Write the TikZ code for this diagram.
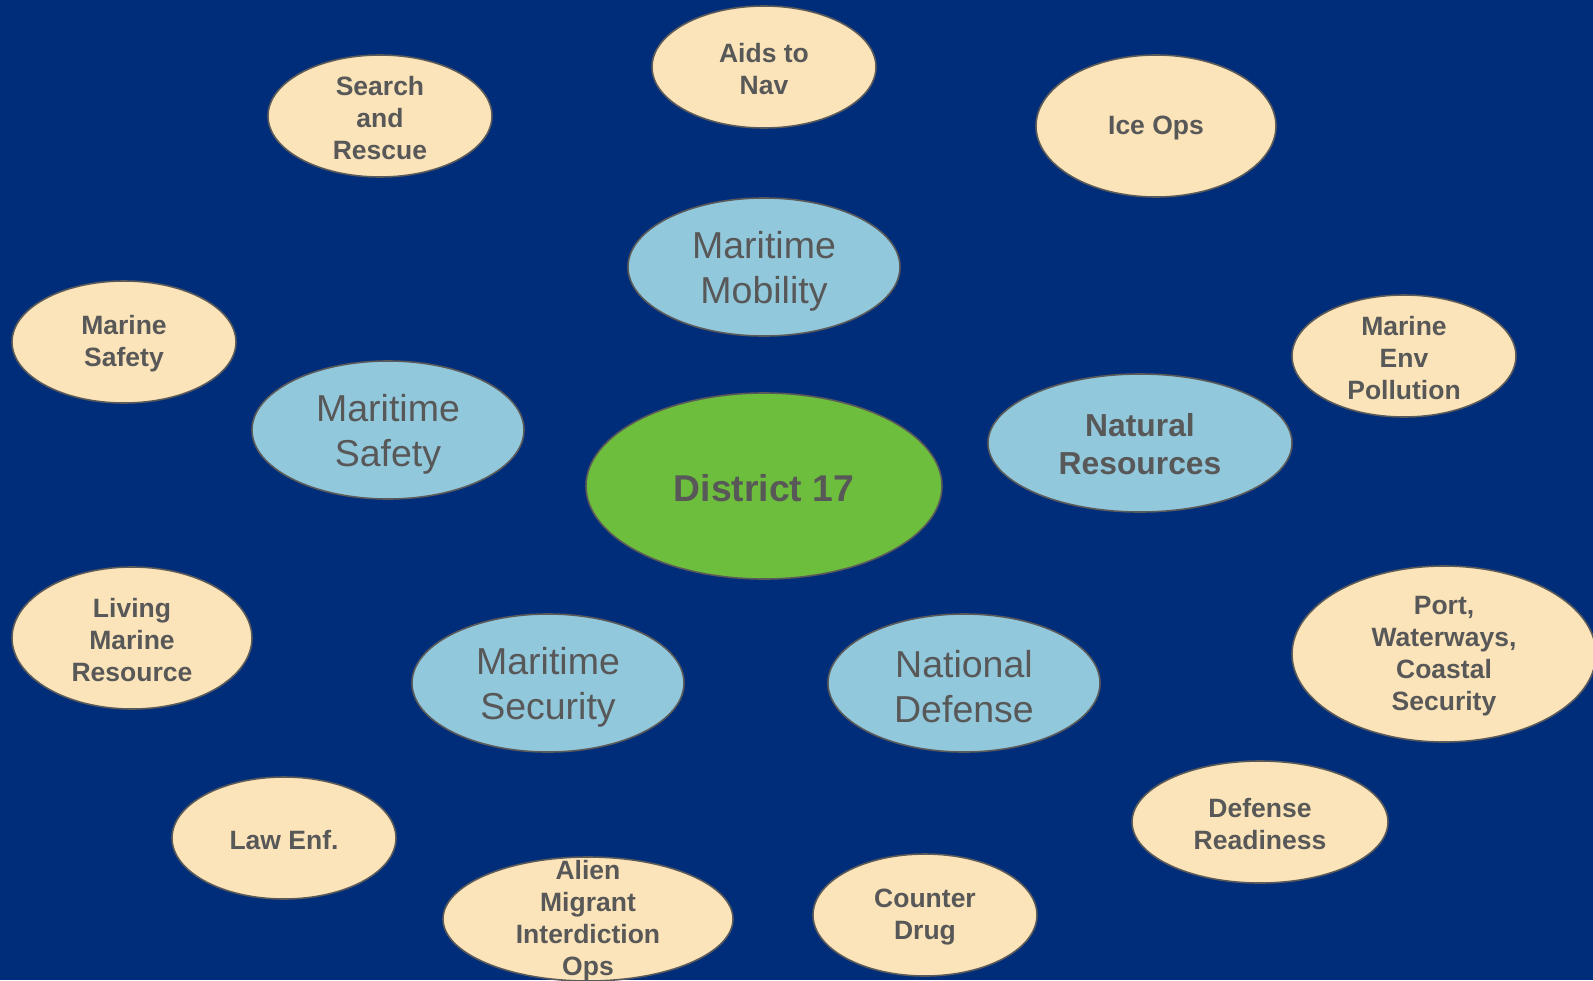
\documentclass[tikz,border=0pt]{standalone}
\usepackage{fontspec}
\setmainfont{Liberation Sans}
\usetikzlibrary{shapes.geometric}
\definecolor{bg}{RGB}{0,45,122}
\definecolor{cream}{RGB}{251,228,185}
\definecolor{lblue}{RGB}{146,200,220}
\definecolor{dgreen}{RGB}{109,190,60}
\definecolor{txt}{RGB}{88,88,88}
\definecolor{edge}{RGB}{90,90,90}
\tikzset{
  oval/.style={ellipse, draw=edge, line width=1.6pt, inner sep=0pt},
  task/.style={oval, fill=cream},
  mission/.style={oval, fill=lblue},
  hub/.style={oval, fill=dgreen},
  lbl/.style={text=txt, align=center, inner sep=0pt},
  tasktxt/.style={lbl, font=\fontsize{26.5}{32}\selectfont\bfseries, yshift=-2pt},
  missiontxt/.style={lbl, font=\fontsize{37.5}{45}\selectfont, yshift=-4pt},
  missionbtxt/.style={lbl, font=\fontsize{31.8}{38}\selectfont\bfseries, yshift=-1pt},
  hubtxt/.style={lbl, font=\fontsize{37.3}{44}\selectfont\bfseries, yshift=-2pt},
}
\begin{document}
\begin{tikzpicture}[x=1pt,y=-1pt]
\fill[bg] (0,0) rectangle (1593,980);
\useasboundingbox (0,0) rectangle (1593,980);
% tasks
\node[task, minimum width=224pt, minimum height=122pt] (aids) at (764,67) {};
\node[tasktxt] (aidsT) at (aids.center) {Aids to\\Nav};
\node[task, minimum width=224pt, minimum height=122pt] (sar) at (380,116) {};
\node[tasktxt] (sarT) at (sar.center) {Search\\and\\Rescue};
\node[task, minimum width=240pt, minimum height=142pt] (ice) at (1156,126) {};
\node[tasktxt] (iceT) at (ice.center) {Ice Ops};
\node[task, minimum width=224pt, minimum height=122pt] (msafe) at (124,342) {};
\node[tasktxt] (msafeT) at (msafe.center) {Marine\\Safety};
\node[task, minimum width=224pt, minimum height=122pt] (mep) at (1404,356) {};
\node[tasktxt] (mepT) at (mep.center) {Marine\\Env\\Pollution};
\node[task, minimum width=240pt, minimum height=142pt] (lmr) at (132,638) {};
\node[tasktxt] (lmrT) at (lmr.center) {Living\\Marine\\Resource};
\node[task, minimum width=304pt, minimum height=176pt] (pwcs) at (1444,654) {};
\node[tasktxt] (pwcsT) at (pwcs.center) {Port,\\Waterways,\\Coastal\\Security};
\node[task, minimum width=256pt, minimum height=122pt] (dr) at (1260,822) {};
\node[tasktxt] (drT) at (dr.center) {Defense\\Readiness};
\node[task, minimum width=224pt, minimum height=122pt] (le) at (284,838) {};
\node[tasktxt] (leT) at (le.center) {Law Enf.};
\node[task, minimum width=290pt, minimum height=124pt] (amio) at (588,919) {};
\node[tasktxt] (amioT) at (amio.center) {Alien\\Migrant\\Interdiction\\Ops};
\node[task, minimum width=224pt, minimum height=122pt] (cd) at (925,915) {};
\node[tasktxt] (cdT) at (cd.center) {Counter\\Drug};
% missions
\node[mission, minimum width=272pt, minimum height=138pt] (mm) at (764,267) {};
\node[missiontxt] (mmT) at (mm.center) {Maritime\\Mobility};
\node[mission, minimum width=272pt, minimum height=138pt] (ms) at (388,430) {};
\node[missiontxt] (msT) at (ms.center) {Maritime\\Safety};
\node[mission, minimum width=304pt, minimum height=138pt] (nr) at (1140,443) {};
\node[missionbtxt] (nrT) at (nr.center) {Natural\\Resources};
\node[mission, minimum width=272pt, minimum height=138pt] (msec) at (548,683) {};
\node[missiontxt] (msecT) at (msec.center) {Maritime\\Security};
\node[mission, minimum width=272pt, minimum height=138pt] (nd) at (964,683) {};
\node[missiontxt] (ndT) at (nd.center) {National\\Defense};
% hub
\node[hub, minimum width=356pt, minimum height=186pt] (d17) at (764,486) {};
\node[hubtxt] (d17T) at (d17.center) {District 17};
\end{tikzpicture}
\end{document}
